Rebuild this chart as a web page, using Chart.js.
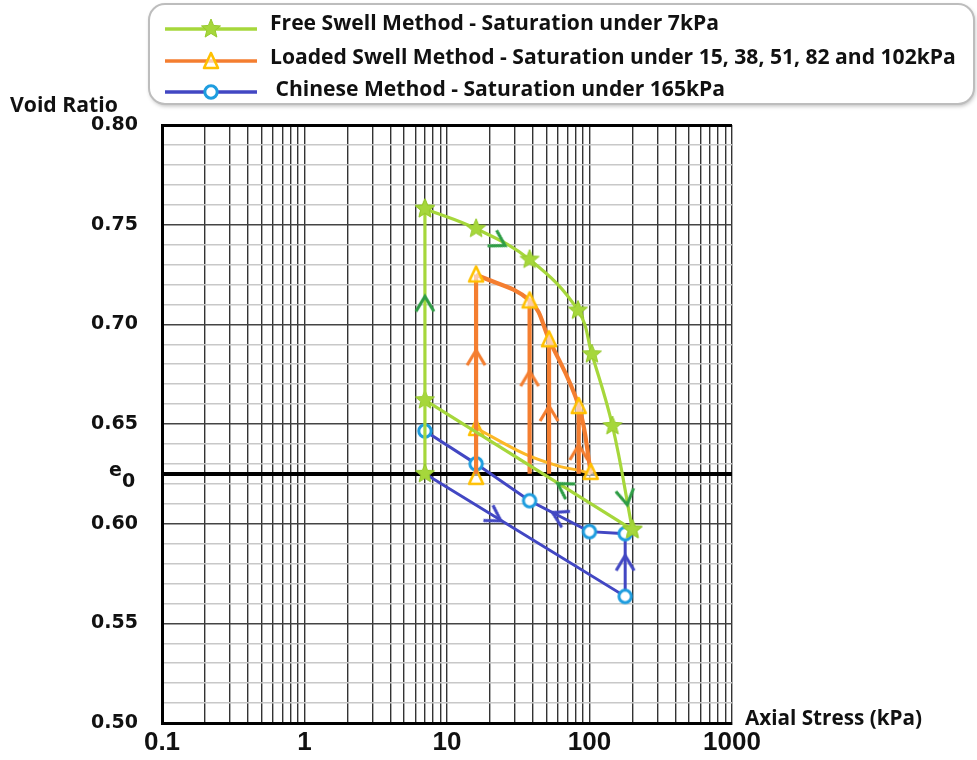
<!DOCTYPE html>
<html><head><meta charset="utf-8">
<script src="https://cdn.jsdelivr.net/npm/chart.js@4.4.1/dist/chart.umd.min.js"></script>
<style>html,body{margin:0;padding:0;background:#fff;}#wrap{position:relative;width:977px;height:760px;}</style>
</head><body><div id="wrap"><canvas id="c" width="977" height="760"></canvas></div>
<script>
// ---------------- data ----------------
const E0 = 0.625;
const X_TICK_LABELS = [0.1, 1, 10, 100, 1000];
const Y_TICK_LABELS = [0.50, 0.55, 0.60, 0.65, 0.70, 0.75, 0.80];
const X_TITLE = 'Axial Stress (kPa)';
const Y_TITLE = 'Void Ratio';
const LEGEND_LABELS = [
  'Free Swell Method - Saturation under 7kPa',
  'Loaded Swell Method - Saturation under 15, 38, 51, 82 and 102kPa',
  ' Chinese Method - Saturation under 165kPa'
];

// Free swell method
const freeVertX = [7, 7];
const freeVertY = [0.625, 0.758];
const freeLoadX = [7, 16, 38, 83, 104, 145, 200];
const freeLoadY = [0.758, 0.748, 0.7325, 0.707, 0.685, 0.649, 0.597];
const freeUnloadX = [200, 7];
const freeUnloadY = [0.597, 0.662];
const freeArrowX = [7, 23.5, 181, 65];
const freeArrowY = [0.711, 0.741, 0.6125, 0.6185];
const freeArrowDir = [0, 120, 170, 302];

// Loaded swell method
const loadedStress = [16, 38, 52, 84, 102];
const loadedTop = [0.725, 0.712, 0.6925, 0.659, 0.626];
const loadedLowerX = [16, 35, 60, 87, 102];
const loadedLowerY = [0.648, 0.635, 0.629, 0.6265, 0.625];
const loadedLowerMarkX = [16, 16];
const loadedLowerMarkY = [0.648, 0.6235];
const loadedArrowX = [16, 38, 52, 84];
const loadedArrowY = [0.684, 0.6735, 0.656, 0.6365];
const loadedArrowDir = [0, 0, 0, 0];

// Chinese method
const chineseX = [7, 178, 178, 100, 38, 16, 7];
const chineseY = [0.625, 0.5635, 0.595, 0.596, 0.6115, 0.63, 0.6465];
const chineseArrowX = [22, 178, 60];
const chineseArrowY = [0.603, 0.581, 0.6042];
const chineseArrowDir = [122, 0, 297];

// ---------------- styles ----------------
const GREEN = '#a6d73b', GREEN_ARROW = '#2e9d45';
const ORANGE = '#f47e30', GOLD = '#ffc000', YELLOW = '#fcb827';
const BLUE = '#4247c3', CYAN = '#1e9ddf';

function mk(w, h, fn) { const c = document.createElement('canvas'); c.width = w; c.height = h; fn(c.getContext('2d')); return c; }
const STAR = mk(22, 22, g => {
  g.beginPath();
  for (let i = 0; i < 10; i++) { const r = i % 2 ? 4.4 : 10; const a = -Math.PI / 2 + i * Math.PI / 5; g.lineTo(11 + r * Math.cos(a), 11 + r * Math.sin(a)); }
  g.closePath(); g.fillStyle = GREEN; g.fill(); g.strokeStyle = '#95c92c'; g.lineWidth = 1; g.stroke();
});
const TRI = mk(22, 22, g => {
  g.beginPath(); g.moveTo(11, 3); g.lineTo(4, 18); g.lineTo(18, 18); g.closePath();
  g.fillStyle = 'rgba(255,255,255,0.6)'; g.fill(); g.strokeStyle = GOLD; g.lineWidth = 2.6; g.lineJoin = 'round'; g.stroke();
});
const CIRC = mk(20, 20, g => {
  g.beginPath(); g.arc(10, 10, 6.2, 0, Math.PI * 2); g.fillStyle = '#fff'; g.fill();
  g.strokeStyle = CYAN; g.lineWidth = 3; g.stroke();
});
function chevron(color) {
  return mk(30, 30, g => {
    g.beginPath(); g.moveTo(6, 24); g.lineTo(15, 9); g.lineTo(24, 24);
    g.strokeStyle = color; g.lineWidth = 3.2; g.lineJoin = 'miter'; g.lineCap = 'butt'; g.stroke();
  });
}
const CH_GREEN = chevron(GREEN_ARROW), CH_ORANGE = chevron(ORANGE), CH_BLUE = chevron(BLUE);

const pts = (xs, ys) => xs.map((x, i) => ({ x, y: ys[i] }));

const datasets = [
  { label: 'fa', data: pts(freeArrowX, freeArrowY), showLine: false, pointStyle: CH_GREEN, pointRadius: 5, pointRotation: freeArrowDir },
  { label: 'la', data: pts(loadedArrowX, loadedArrowY), showLine: false, pointStyle: CH_ORANGE, pointRadius: 5, pointRotation: loadedArrowDir },
  { label: 'ca', data: pts(chineseArrowX, chineseArrowY), showLine: false, pointStyle: CH_BLUE, pointRadius: 5, pointRotation: chineseArrowDir },
  { label: LEGEND_LABELS[0], data: pts(freeLoadX, freeLoadY), showLine: true, borderColor: GREEN, borderWidth: 3.2, tension: 0.4, pointStyle: STAR, pointRadius: 6 },
  { label: 'fv', data: pts(freeVertX, freeVertY), showLine: true, borderColor: GREEN, borderWidth: 3.2, tension: 0, pointStyle: STAR, pointRadius: 6 },
  { label: 'fu', data: pts(freeUnloadX, freeUnloadY), showLine: true, borderColor: GREEN, borderWidth: 3.2, tension: 0, pointStyle: STAR, pointRadius: 6 },
  { label: LEGEND_LABELS[1], data: pts(loadedStress, loadedTop), showLine: true, borderColor: ORANGE, borderWidth: 4.2, tension: 0.4, pointStyle: TRI, pointRadius: 6 }
];
loadedStress.forEach((s, i) => {
  datasets.push({ label: 'lv' + i, data: [{ x: s, y: E0 }, { x: s, y: loadedTop[i] }], showLine: true, borderColor: ORANGE, borderWidth: 4.2, pointRadius: 0 });
});
datasets.push({ label: 'll', data: pts(loadedLowerX, loadedLowerY), showLine: true, borderColor: YELLOW, borderWidth: 3, tension: 0.35, pointRadius: 0 });
datasets.push({ label: 'lm', data: pts(loadedLowerMarkX, loadedLowerMarkY), showLine: false, pointStyle: TRI, pointRadius: 6 });
datasets.push({ label: LEGEND_LABELS[2], data: pts(chineseX, chineseY), showLine: true, borderColor: BLUE, borderWidth: 3, tension: 0, pointStyle: CIRC, pointRadius: chineseX.map((_, i) => i === 0 ? 0 : 6) });

const X_GRID = [];
[0.1, 1, 10, 100].forEach(d => { for (let m = 1; m <= 9; m++) X_GRID.push(+(m * d).toPrecision(3)); });
X_GRID.push(1000);
const Y_GRID = [];
for (let i = 50; i <= 80; i++) Y_GRID.push(i / 100);
const near = (a, b) => Math.abs(a - b) < 1e-7;

function rrect(ctx, x, y, w, h, r) {
  ctx.beginPath(); ctx.moveTo(x + r, y); ctx.lineTo(x + w - r, y); ctx.arcTo(x + w, y, x + w, y + r, r);
  ctx.lineTo(x + w, y + h - r); ctx.arcTo(x + w, y + h, x + w - r, y + h, r); ctx.lineTo(x + r, y + h);
  ctx.arcTo(x, y + h, x, y + h - r, r); ctx.lineTo(x, y + r); ctx.arcTo(x, y, x + r, y, r); ctx.closePath();
}
function fitFont(ctx, text, family, width) {
  ctx.font = 'bold 20px ' + family;
  return (20 * width / ctx.measureText(text).width).toFixed(1);
}

const FAMILY = '"Open Sans"';
const decor = {
  id: 'decor',
  afterDraw(chart) {
    const ctx = chart.ctx;
    ctx.save();
    // legend box
    ctx.save();
    ctx.shadowColor = 'rgba(0,0,0,0.28)'; ctx.shadowBlur = 4; ctx.shadowOffsetX = 1; ctx.shadowOffsetY = 2;
    rrect(ctx, 149, 4, 825, 100, 16); ctx.fillStyle = '#fff'; ctx.fill();
    ctx.restore();
    rrect(ctx, 149, 4, 825, 100, 16); ctx.strokeStyle = '#bdbdbd'; ctx.lineWidth = 2; ctx.stroke();
    const rows = [
      { color: GREEN, mark: STAR, ly: 29, ty: 24 },
      { color: ORANGE, mark: TRI, ly: 61, ty: 58 },
      { color: BLUE, mark: CIRC, ly: 92, ty: 90 }
    ];
    const fs = fitFont(ctx, LEGEND_LABELS[1], FAMILY, 685);
    rows.forEach((r, i) => {
      ctx.beginPath(); ctx.moveTo(165, r.ly); ctx.lineTo(257, r.ly);
      ctx.strokeStyle = r.color; ctx.lineWidth = 3.5; ctx.stroke();
      ctx.drawImage(r.mark, 211 - r.mark.width / 2, r.ly - r.mark.height / 2);
      ctx.font = 'bold ' + fs + 'px ' + FAMILY; ctx.fillStyle = '#111'; ctx.textBaseline = 'middle'; ctx.textAlign = 'left';
      ctx.fillText(LEGEND_LABELS[i], 270, r.ty);
    });
    // axis titles
    ctx.fillStyle = '#111'; ctx.textBaseline = 'alphabetic';
    ctx.font = 'bold ' + fitFont(ctx, Y_TITLE, FAMILY, 108) + 'px ' + FAMILY;
    ctx.fillText(Y_TITLE, 10, 112);
    ctx.font = 'bold ' + fitFont(ctx, X_TITLE, FAMILY, 177) + 'px ' + FAMILY;
    ctx.fillText(X_TITLE, 745, 725);
    // e0 label
    const ys = chart.scales.y.getPixelForValue(E0);
    ctx.font = 'bold 19px "DejaVu Sans"'; ctx.textAlign = 'left';
    ctx.fillText('e', 109, ys + 2);
    ctx.fillText('0', 122, ys + 13);
    ctx.restore();
  }
};

new Chart(document.getElementById('c'), {
  type: 'scatter',
  data: { datasets },
  options: {
    responsive: false, animation: false, devicePixelRatio: 1,
    layout: { padding: { top: 125, right: 245, left: 0, bottom: 0 } },
    plugins: { legend: { display: false }, tooltip: { enabled: false } },
    elements: { line: { fill: false } },
    scales: {
      x: {
        type: 'logarithmic', min: 0.1, max: 1000,
        afterBuildTicks: s => { s.ticks = X_GRID.map(v => ({ value: v })); },
        afterFit: s => { s.height = 37; },
        ticks: {
          autoSkip: false, maxRotation: 0, padding: 4, color: '#111',
          font: { family: 'Liberation Sans', weight: 'bold', size: 26 },
          callback: v => X_TICK_LABELS.some(t => near(t, v)) ? String(v) : ''
        },
        grid: { color: '#333', lineWidth: 1.4, drawTicks: false },
        border: { color: '#000', width: 3 }
      },
      y: {
        type: 'linear', min: 0.5, max: 0.8,
        afterBuildTicks: s => { s.ticks = [...Y_GRID, E0].sort((a, b) => a - b).map(v => ({ value: v })); },
        afterFit: s => { s.width = 162; },
        ticks: {
          autoSkip: false, padding: 24, color: '#111',
          font: { family: 'DejaVu Sans', weight: 'bold', size: 19 },
          callback: v => (!near(v, E0) && Y_TICK_LABELS.some(t => near(t, v))) ? v.toFixed(2) : ''
        },
        grid: {
          drawTicks: false,
          color: c => { const v = c.tick.value; if (near(v, E0) || near(v, 0.8)) return '#000'; if (Y_TICK_LABELS.some(t => near(t, v))) return '#444'; return '#c8c8c8'; },
          lineWidth: c => { const v = c.tick.value; if (near(v, E0)) return 4; if (near(v, 0.8)) return 3; return 1.4; }
        },
        border: { color: '#000', width: 3 }
      }
    }
  },
  plugins: [decor]
});
</script></body></html>
